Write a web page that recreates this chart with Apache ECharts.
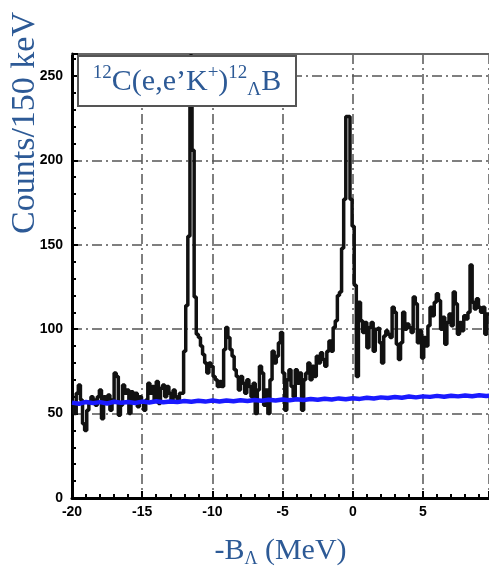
<!DOCTYPE html>
<html>
<head>
<meta charset="utf-8">
<script src="https://cdn.jsdelivr.net/npm/echarts@6/dist/echarts.min.js"></script>
<style>
  html, body { margin: 0; padding: 0; background: #fff; }
  #chart { width: 489px; height: 573px; }
</style>
</head>
<body>
<div id="chart"></div>
<script>
// histogram: 150 keV bins starting at -20 MeV
const binStart = -20;
const binWidth = 0.15;
const counts = [
  56, 50, 62, 67, 58, 44, 40, 52, 57, 60,
  58, 55, 60, 64, 47, 60, 57, 61, 52, 58,
  74, 72, 49, 55, 67, 62, 64, 50, 63, 58,
  62, 54, 60, 57, 52, 58, 68, 62, 66, 58,
  69, 56, 65, 67, 60, 66, 62, 58, 64, 60,
  57, 62, 62,
  87, 114, 155, 262, 206, 119, 97, 95, 90, 85,
  80, 74, 80, 78, 72, 70, 66, 69, 66, 88,
  101, 95, 88, 84, 76, 72, 64, 72, 68, 62,
  70, 66, 60, 68, 50, 64, 78, 74, 55, 64,
  50, 70, 87, 80, 84, 92, 98, 74, 52, 70,
  76, 66, 60, 76, 68, 74, 52, 70, 74, 80,
  70, 78, 72, 84, 80, 86, 82, 78, 87, 93,
  87, 101, 105, 120, 122, 148, 177, 226, 226, 177,
  161, 126, 72, 116, 105, 98, 104, 89, 101, 104,
  87, 100, 101, 92, 80, 96, 99, 97, 95, 113,
  110, 91, 82, 92, 110, 100, 103, 101, 98, 119,
  115, 92, 99, 83, 95, 90, 102, 113, 108, 116,
  121, 117, 100, 107, 91, 104, 109, 102, 122, 115,
  97, 104, 99, 108, 106, 110, 138, 116, 112, 118,
  113, 110, 113, 97, 109
];

// accidental background (blue), every 0.5 MeV from -20
const bgStep = 0.5;
const background = [
  56.5, 55.8, 56.9, 56.2, 56.8, 56.0, 57.0, 56.4, 56.9, 56.3,
  57.1, 56.6, 57.3, 56.7, 57.2, 56.8, 57.5, 57.0, 57.6, 57.1,
  57.7, 57.2, 57.8, 57.3, 57.9, 57.5, 58.1, 57.6, 58.2, 57.7,
  58.4, 57.9, 58.5, 58.1, 58.7, 58.2, 58.8, 58.4, 59.0, 58.5,
  59.1, 58.7, 59.4, 58.9, 59.6, 59.2, 59.8, 59.4, 60.1, 59.6,
  60.2, 59.9, 60.5, 60.0, 60.6, 60.2, 60.7, 60.3, 60.8, 60.4,
  60.7
];

const xTicks = [-20, -15, -10, -5, 0, 5];
const yTicks = [0, 50, 100, 150, 200, 250];

const xMin = -20, xMax = 9.7;
const yMin = 0, yMax = 263;

const blue = '#2d5a96';

let histData = counts.map((c, i) => [binStart + i * binWidth, c]);
histData.push([binStart + counts.length * binWidth, counts[counts.length - 1]]);
let bgData = background.map((v, i) => [binStart + i * bgStep, v]);

const gridLine = { show: true, lineStyle: { color: '#555', width: 1.5, type: [10, 4, 2, 4] } };

let chart = echarts.init(document.getElementById('chart'));
chart.setOption({
  animation: false,
  grid: { left: 72, top: 54, right: 0, bottom: 66 },
  xAxis: [{
    type: 'value', min: xMin, max: xMax, interval: 5,
    axisLine: { onZero: false, lineStyle: { color: '#000', width: 3 } },
    axisTick: { inside: true, length: 7, lineStyle: { color: '#000', width: 2 } },
    minorTick: { show: true, splitNumber: 5, length: 4, lineStyle: { color: '#000', width: 2 } },
    axisLabel: {
      showMaxLabel: false, margin: 7, color: '#000',
      fontFamily: 'Liberation Sans', fontWeight: 'bold', fontSize: 14,
      formatter: v => xTicks.includes(v) ? String(v) : ''
    },
    splitLine: gridLine,
    name: '{t|-B}{s|Λ}{t| (MeV)}',
    nameLocation: 'middle', nameGap: 36,
    nameTextStyle: {
      rich: {
        t: { fontFamily: 'Liberation Serif', fontSize: 30, color: blue, lineHeight: 34 },
        s: { fontFamily: 'Liberation Serif', fontSize: 18, color: blue, verticalAlign: 'bottom', lineHeight: 26 }
      }
    }
  }, {
    type: 'value', min: xMin, max: xMax, position: 'top',
    axisLine: { onZero: false, lineStyle: { color: '#666', width: 2 } },
    axisTick: { show: false }, axisLabel: { show: false }, splitLine: { show: false }
  }],
  yAxis: {
    type: 'value', min: yMin, max: yMax, interval: 50,
    axisLine: { show: true, onZero: false, lineStyle: { color: '#000', width: 3 } },
    axisTick: { show: true, inside: true, length: 6, lineStyle: { color: '#000', width: 2 } },
    minorTick: { show: true, splitNumber: 5, length: 4, lineStyle: { color: '#000', width: 2 } },
    axisLabel: {
      showMaxLabel: false, margin: 9, color: '#000',
      fontFamily: 'Liberation Sans', fontWeight: 'bold', fontSize: 14,
      formatter: v => yTicks.includes(v) ? String(v) : ''
    },
    splitLine: gridLine
  },
  series: [{
    type: 'line', step: 'end', data: histData, symbol: 'none', z: 3,
    lineStyle: { color: '#111', width: 3.5 }
  }, {
    type: 'line', data: bgData, symbol: 'none', z: 4,
    lineStyle: { color: '#1a1aff', width: 4.5 }
  }],
  graphic: [{
    type: 'text', z: 100, x: 25, y: 123, rotation: Math.PI / 2,
    style: {
      text: 'Counts/150 keV', fill: blue, font: '34px "Liberation Serif"',
      align: 'center', verticalAlign: 'middle'
    }
  }, {
    type: 'rect', z: 100, shape: { x: 78, y: 56, width: 218, height: 50 },
    style: { fill: '#fff', stroke: '#555', lineWidth: 2 }
  }, {
    type: 'text', z: 101, x: 187, y: 82,
    style: {
      text: '{p|12}{m|C(e,e’K}{p|+}{m|)}{p|12}{b|Λ}{m|B}',
      align: 'center', verticalAlign: 'middle',
      rich: {
        m: { fontFamily: 'Liberation Serif', fontSize: 30, fill: blue, lineHeight: 36 },
        p: { fontFamily: 'Liberation Serif', fontSize: 19, fill: blue, verticalAlign: 'top', lineHeight: 24 },
        b: { fontFamily: 'Liberation Serif', fontSize: 19, fill: blue, verticalAlign: 'bottom', lineHeight: 24 }
      }
    }
  }]
});
</script>
</body>
</html>
